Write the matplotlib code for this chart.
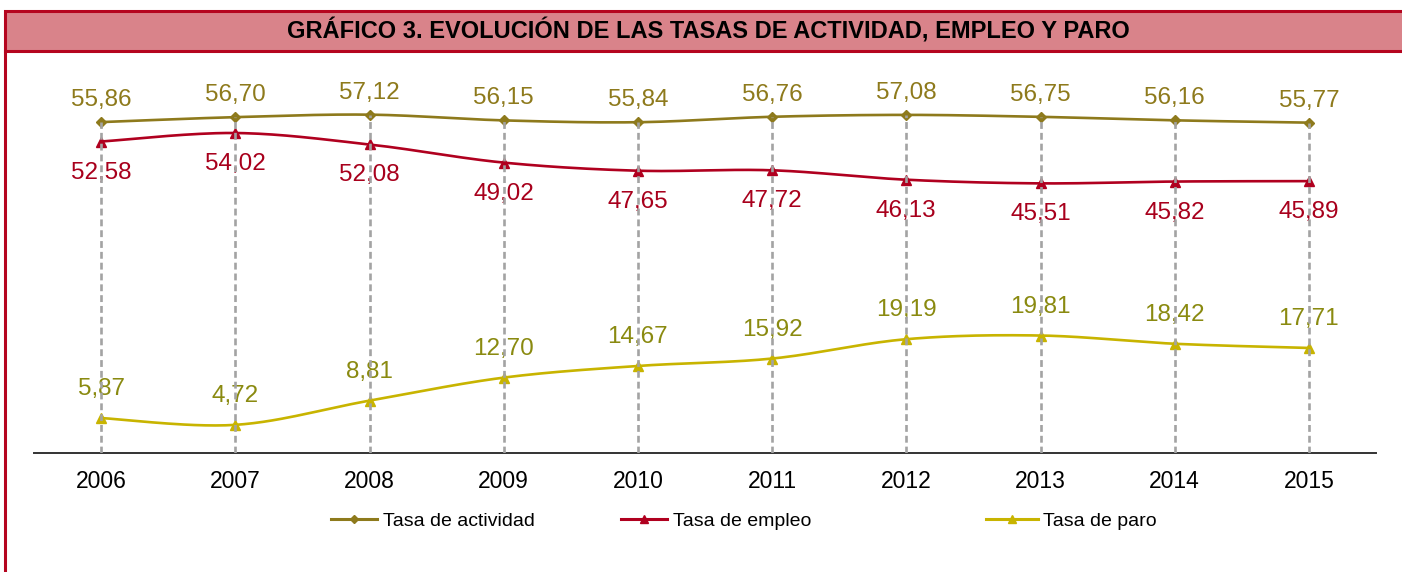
import numpy as np
import matplotlib
matplotlib.use("Agg")
import matplotlib.pyplot as plt
from matplotlib.patches import Rectangle
from matplotlib.lines import Line2D

plt.rcParams['font.family'] = ['Liberation Sans', 'DejaVu Sans']

# Datos (tasas en %)
anios = ['2006', '2007', '2008', '2009', '2010', '2011', '2012', '2013', '2014', '2015']
actividad = [55.86, 56.70, 57.12, 56.15, 55.84, 56.76, 57.08, 56.75, 56.16, 55.77]
empleo = [52.58, 54.02, 52.08, 49.02, 47.65, 47.72, 46.13, 45.51, 45.82, 45.89]
paro = [5.87, 4.72, 8.81, 12.70, 14.67, 15.92, 19.19, 19.81, 18.42, 17.71]

c_act = '#8E7A1C'
c_emp = '#B0001F'
c_par = '#C8B400'
c_txt_par = '#8A8A10'
c_txt_emp = '#A8001C'
borde = '#B5051F'


def suavizar(x, y, n=30):
    # curva suavizada tipo Excel (bezier con tangentes catmull-rom)
    x = np.asarray(x, float)
    y = np.asarray(y, float)
    pts = np.column_stack([x, y])
    out = []
    for i in range(len(pts) - 1):
        p0 = pts[i - 1] if i > 0 else pts[i]
        p1 = pts[i]
        p2 = pts[i + 1]
        p3 = pts[i + 2] if i + 2 < len(pts) else pts[i + 1]
        c1 = p1 + (p2 - p0) / 6
        c2 = p2 - (p3 - p1) / 6
        t = np.linspace(0, 1, n)[:, None]
        seg = (1 - t)**3 * p1 + 3 * (1 - t)**2 * t * c1 + 3 * (1 - t) * t**2 * c2 + t**3 * p2
        out.append(seg if i == 0 else seg[1:])
    out = np.vstack(out)
    return out[:, 0], out[:, 1]


W, H = 1402, 572
fig = plt.figure(figsize=(W / 100, H / 100), dpi=100)
ax = fig.add_axes([34 / W, 1 - 452.8 / H, (1376 - 34) / W, (452.8 - 97.6) / H])

x = np.arange(len(anios))

# lineas de caida
ax.vlines(x, 0, actividad, colors='#A3A3A3', linewidth=1.9,
          linestyles=(0, (2.6, 1.5)), zorder=5)

series = [
    (actividad, c_act, 'D', 5.5, 'Tasa de actividad'),
    (empleo, c_emp, '^', 7, 'Tasa de empleo'),
    (paro, c_par, '^', 7, 'Tasa de paro'),
]
for vals, col, mk, ms, lab in series:
    xs, ys = suavizar(x, vals)
    ax.plot(xs, ys, color=col, linewidth=1.9, zorder=3, solid_capstyle='round')
    ax.plot(x, vals, linestyle='none', marker=mk, markersize=ms, color=col, zorder=4)

for xi, v in zip(x, actividad):
    ax.annotate(f'{v:.2f}'.replace('.', ','), (xi, v), xytext=(0, 22),
                textcoords='offset pixels', ha='center', va='center',
                fontsize=17.5, color=c_act)
for xi, v in zip(x, empleo):
    ax.annotate(f'{v:.2f}'.replace('.', ','), (xi, v), xytext=(0, -31),
                textcoords='offset pixels', ha='center', va='center',
                fontsize=17.5, color=c_txt_emp)
for xi, v in zip(x, paro):
    ax.annotate(f'{v:.2f}'.replace('.', ','), (xi, v), xytext=(0, 29),
                textcoords='offset pixels', ha='center', va='center',
                fontsize=17.5, color=c_txt_par)

ax.set_xlim(-0.5, len(anios) - 0.5)
ax.set_ylim(0, 60)
ax.set_xticks(x)
ax.set_xticklabels(anios, fontsize=16.5)
ax.tick_params(axis='x', length=0, pad=12.5)
ax.set_yticks([])
for s in ['top', 'left', 'right']:
    ax.spines[s].set_visible(False)
ax.spines['bottom'].set_color('#333333')
ax.spines['bottom'].set_linewidth(1.4)

# leyenda (tres bloques separados como en el original)
pos_ley = [(331, 2.35), (621, 2.35), (986, 2.65)]
for (vals, col, mk, ms, lab), (px, hl) in zip(series, pos_ley):
    h = Line2D([], [], color=col, linewidth=2.2, marker=mk, markersize=ms - 1)
    lg = fig.legend(handles=[h], labels=[lab], loc='center left',
                    bbox_to_anchor=(px / W, 1 - 521 / H), frameon=False,
                    fontsize=14, handlelength=hl, handletextpad=0.3,
                    borderpad=0, borderaxespad=0)

# banda de titulo y marco
fig.patches.append(Rectangle((5 / W, 1 - 51 / H), 1.0, 40 / H, transform=fig.transFigure,
                             facecolor='#D9838A', edgecolor=borde, linewidth=2.2))
fig.lines.append(Line2D([5 / W, 5 / W], [0, 1 - 51 / H], transform=fig.transFigure,
                        color=borde, linewidth=2.2))
fig.text(708 / W, 1 - 31 / H, 'GRÁFICO 3. EVOLUCIÓN DE LAS TASAS DE ACTIVIDAD, EMPLEO Y PARO',
         ha='center', va='center', fontsize=17, fontweight='bold', color='black')

fig.savefig('out.png', dpi=100)
